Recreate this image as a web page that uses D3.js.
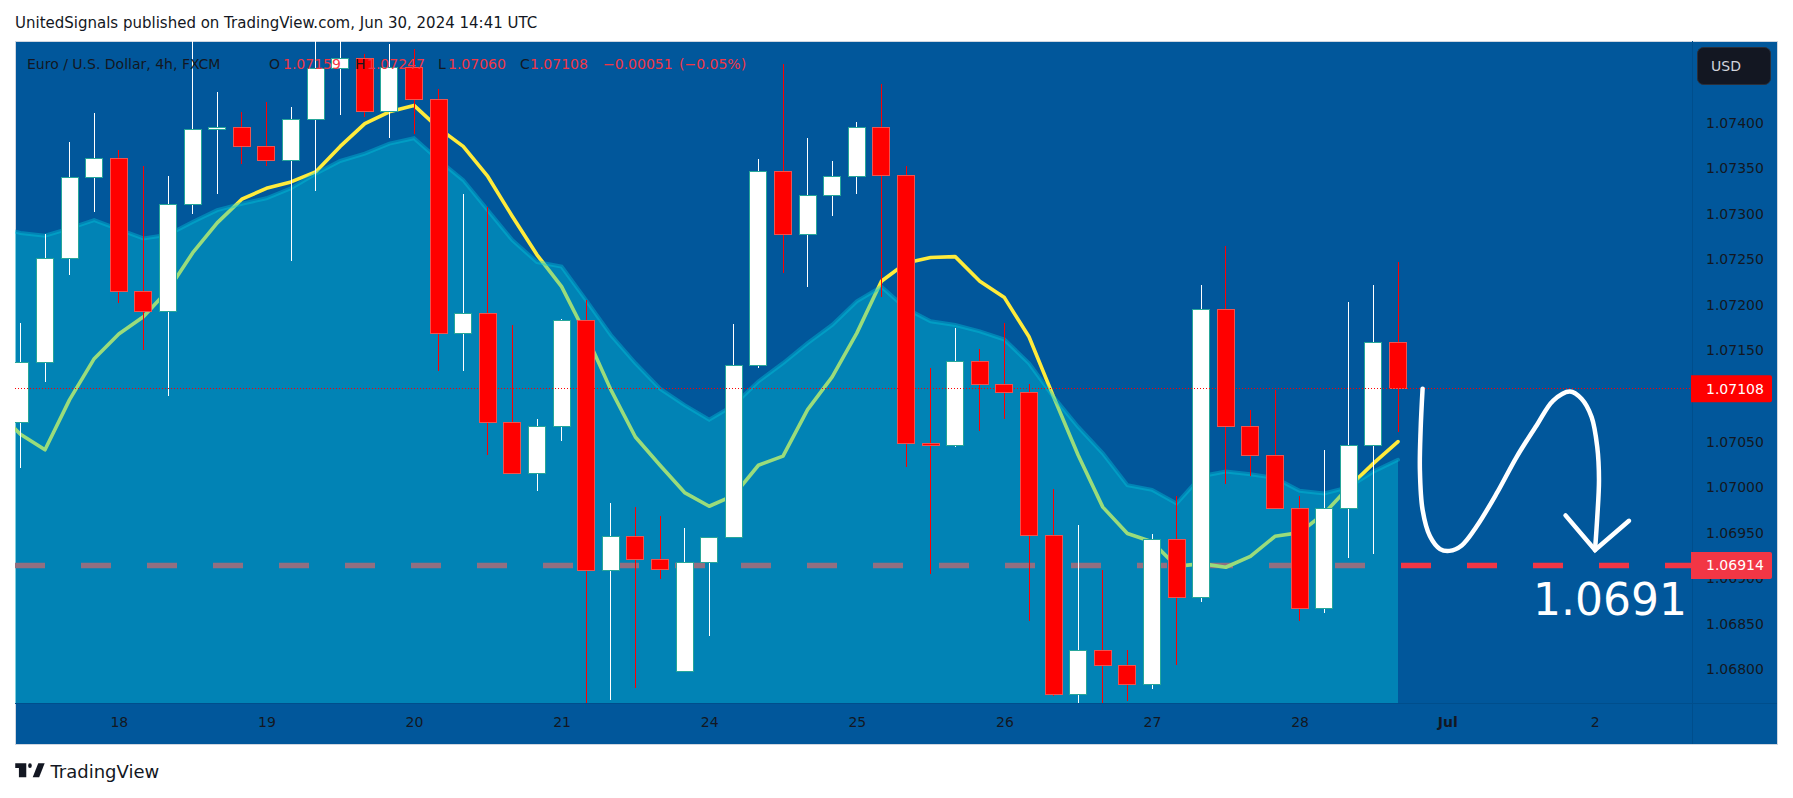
<!DOCTYPE html>
<html>
<head>
<meta charset="utf-8">
<title>EURUSD 4h</title>
<script src="https://cdn.jsdelivr.net/npm/d3@7"></script>
<style>
    html, body { margin: 0; padding: 0; background: #fff; }
    svg { display: block; }
    text { font-family: "DejaVu Sans", sans-serif; }
</style>
</head>
<body>
<svg id="chart" width="1793" height="798"></svg>
<script>
/* --------------------------------------------------- */
/* ----------------------- DATA ---------------------- */
/* --------------------------------------------------- */

// first candle sits 4 bars before the "18" tick
let firstBar = -4
let opens = [1.07071,1.07137,1.07251,1.07340,1.07361,1.07215,1.07193,1.07310,1.07393,1.07395,1.07374,1.07358,1.07403,1.07460,1.07471,1.07412,1.07461,1.07426,1.07169,1.07191,1.07071,1.07015,1.07066,1.07183,1.06909,1.06946,1.06921,1.06798,1.06917,1.06945,1.07133,1.07346,1.07277,1.07320,1.07341,1.07395,1.07342,1.07048,1.07046,1.07138,1.07113,1.07104,1.06947,1.06772,1.06821,1.06804,1.06783,1.06942,1.06879,1.07195,1.07067,1.07035,1.06977,1.06867,1.06977,1.07046,1.07159]
let highs = [1.07180,1.07278,1.07379,1.07411,1.07370,1.07353,1.07341,1.07520,1.07434,1.07412,1.07423,1.07417,1.07500,1.07520,1.07475,1.07486,1.07481,1.07437,1.07322,1.07307,1.07178,1.07075,1.07184,1.07205,1.06983,1.06978,1.06968,1.06955,1.06945,1.07179,1.07360,1.07464,1.07383,1.07358,1.07401,1.07442,1.07353,1.07131,1.07175,1.07152,1.07180,1.07113,1.06998,1.06958,1.06909,1.06821,1.06949,1.06990,1.07222,1.07265,1.07085,1.07107,1.06990,1.07041,1.07203,1.07222,1.07247]
let lows = [1.07021,1.07115,1.07233,1.07302,1.07202,1.07150,1.07100,1.07300,1.07322,1.07355,1.07353,1.07248,1.07325,1.07408,1.07406,1.07383,1.07388,1.07127,1.07127,1.07035,1.07015,1.06996,1.07051,1.06740,1.06766,1.06780,1.06899,1.06798,1.06837,1.06945,1.07131,1.07235,1.07220,1.07298,1.07322,1.07209,1.07022,1.06905,1.07044,1.07062,1.07075,1.06853,1.06771,1.06750,1.06745,1.06765,1.06778,1.06805,1.06874,1.07003,1.07012,1.06977,1.06853,1.06862,1.06922,1.06927,1.07060]
let closes = [1.07137,1.07251,1.07340,1.07361,1.07215,1.07193,1.07310,1.07393,1.07395,1.07374,1.07358,1.07403,1.07460,1.07471,1.07412,1.07461,1.07426,1.07169,1.07191,1.07071,1.07015,1.07066,1.07183,1.06909,1.06946,1.06921,1.06910,1.06917,1.06945,1.07133,1.07346,1.07277,1.07320,1.07341,1.07395,1.07342,1.07048,1.07046,1.07138,1.07113,1.07104,1.06947,1.06772,1.06821,1.06804,1.06783,1.06942,1.06879,1.07195,1.07067,1.07035,1.06977,1.06867,1.06977,1.07046,1.07159,1.07108]

// both averages start one bar earlier than the candles
let lineFirstBar = -5
let yellowLine = [1.07085,1.07058,1.07041,1.07096,1.07141,1.07168,1.07187,1.07216,1.07257,1.07290,1.07316,1.07328,1.07335,1.07346,1.07374,1.07399,1.07412,1.07419,1.07394,1.07374,1.07341,1.07297,1.07255,1.07220,1.07167,1.07107,1.07055,1.07024,1.06994,1.06979,1.06991,1.07024,1.07034,1.07085,1.07121,1.07169,1.07226,1.07246,1.07252,1.07253,1.07226,1.07208,1.07165,1.07099,1.07035,1.06978,1.06949,1.06940,1.06913,1.06916,1.06912,1.06924,1.06946,1.06950,1.06971,1.07000,1.07026,1.07050]
let areaLine = [1.07286,1.07279,1.07276,1.07284,1.07293,1.07283,1.07273,1.07277,1.07291,1.07304,1.07311,1.07317,1.07328,1.07344,1.07358,1.07366,1.07377,1.07383,1.07359,1.07337,1.07304,1.07271,1.07247,1.07242,1.07205,1.07167,1.07136,1.07108,1.07090,1.07074,1.07090,1.07116,1.07136,1.07158,1.07178,1.07204,1.07220,1.07196,1.07182,1.07178,1.07171,1.07162,1.07136,1.07099,1.07066,1.07037,1.07002,1.06997,1.06982,1.07012,1.07017,1.07014,1.07010,1.06996,1.06993,1.07000,1.07017,1.07030]

let priceTicks = [1.068,1.0685,1.069,1.0695,1.07,1.0705,1.071,1.0715,1.072,1.0725,1.073,1.0735,1.074]
let timeTickBars = [0,6,12,18,24,30,36,42,48,54,60]
let timeTickLabels = ['18','19','20','21','24','25','26','27','28','Jul','2']

let lastPrice = 1.07108
let targetPrice = 1.06914

// hand drawn squiggle and arrow head, bar number / price
let squiggleBars = [53.00,52.92,52.89,53.00,53.30,53.71,54.09,54.59,55.20,56.01,56.82,57.64,58.31,58.99,59.46,59.87,60.10,60.17,60.10,60.01]
let squigglePrices = [1.07108,1.07063,1.07019,1.06975,1.06946,1.06932,1.06930,1.06936,1.06957,1.06993,1.07033,1.07068,1.07095,1.07105,1.07097,1.07077,1.07044,1.07008,1.06967,1.06931]
let arrowBars = [58.81,60.01,61.39]
let arrowPrices = [1.06969,1.06931,1.06963]

/* --------------------------------------------------- */
/* ---------------------- LAYOUT --------------------- */
/* --------------------------------------------------- */

let svg = d3.select('#chart')
let plot = { left: 15, top: 41, right: 1692, bottom: 703, outerRight: 1777, outerBottom: 744 }
let barWidth = 17

let x = d3.scaleLinear().domain([0, 60]).range([118.8, 1594.8])
let y = d3.scaleLinear().domain([1.068, 1.074]).range([669.3, 122.7])

let candles = opens.map(function (o, i) {
    return { bar: firstBar + i, open: o, high: highs[i], low: lows[i], close: closes[i] }
})
let yellowPoints = yellowLine.map((v, i) => ({ bar: lineFirstBar + i, value: v }))
let areaPoints = areaLine.map((v, i) => ({ bar: lineFirstBar + i, value: v }))

/* --------------------------------------------------- */
/* ---------------------- PANELS --------------------- */
/* --------------------------------------------------- */

svg.append('rect').attr('x', plot.left).attr('y', plot.top)
    .attr('width', plot.outerRight - plot.left).attr('height', plot.outerBottom - plot.top)
    .attr('fill', '#01579b').attr('stroke', '#cfd6e0').attr('stroke-width', 1)
    .attr('shape-rendering', 'crispEdges')

svg.append('clipPath').attr('id', 'plotClip').append('rect')
    .attr('x', plot.left).attr('y', plot.top)
    .attr('width', plot.right - plot.left).attr('height', plot.bottom - plot.top)

let g = svg.append('g').attr('clip-path', 'url(#plotClip)')

/* --------------- target level (under the area) --------------- */
g.append('line')
    .attr('x1', plot.left).attr('x2', plot.right)
    .attr('y1', y(targetPrice)).attr('y2', y(targetPrice))
    .attr('stroke', '#f23645').attr('stroke-width', 5.5).attr('stroke-dasharray', '30 36')

/* --------------- lines and area --------------- */
let lineGen = d3.line().x(d => x(d.bar)).y(d => y(d.value))
let areaGen = d3.area().x(d => x(d.bar)).y0(plot.bottom).y1(d => y(d.value))

g.append('path').datum(yellowPoints).attr('d', lineGen)
    .attr('fill', 'none').attr('stroke', '#ffeb3b').attr('stroke-width', 3.6)
    .attr('stroke-linecap', 'round').attr('stroke-linejoin', 'round')

g.append('path').datum(areaPoints).attr('d', areaGen)
    .attr('fill', 'rgb(3,197,220)').attr('fill-opacity', 0.4)

g.append('path').datum(areaPoints).attr('d', lineGen)
    .attr('fill', 'none').attr('stroke', 'rgb(3,197,220)').attr('stroke-opacity', 0.4)
    .attr('stroke-width', 4).attr('stroke-linecap', 'round')

/* --------------- candles --------------- */
let candle = g.selectAll('.candle').data(candles).enter().append('g')
    .attr('class', 'candle').attr('shape-rendering', 'crispEdges')

candle.append('line')
    .attr('x1', d => x(d.bar)).attr('x2', d => x(d.bar))
    .attr('y1', d => y(d.high)).attr('y2', d => y(d.low))
    .attr('stroke', d => d.close >= d.open ? '#ffffff' : '#ff0000')

candle.append('rect')
    .attr('x', d => x(d.bar) - barWidth / 2)
    .attr('y', d => y(Math.max(d.open, d.close)))
    .attr('width', barWidth)
    .attr('height', d => Math.abs(y(d.open) - y(d.close)))
    .attr('fill', d => d.close >= d.open ? '#ffffff' : '#ff0000')
    .attr('stroke', d => d.close >= d.open ? '#26a69a' : '#ef5350')

/* --------------- last price dotted line --------------- */
svg.append('line')
    .attr('x1', plot.left).attr('x2', plot.right)
    .attr('y1', y(lastPrice)).attr('y2', y(lastPrice))
    .attr('stroke', '#ff0000').attr('stroke-width', 1).attr('stroke-dasharray', '1 2')
    .attr('shape-rendering', 'crispEdges')

/* --------------- hand drawing --------------- */
let squiggle = squiggleBars.map((b, i) => ({ bar: b, value: squigglePrices[i] }))
let arrow = arrowBars.map((b, i) => ({ bar: b, value: arrowPrices[i] }))

svg.append('path').datum(squiggle)
    .attr('d', lineGen.curve(d3.curveCatmullRom))
    .attr('fill', 'none').attr('stroke', '#fff').attr('stroke-width', 4.5).attr('stroke-linecap', 'round')

svg.append('path').datum(arrow)
    .attr('d', lineGen.curve(d3.curveLinear))
    .attr('fill', 'none').attr('stroke', '#fff').attr('stroke-width', 4.5)
    .attr('stroke-linecap', 'round').attr('stroke-linejoin', 'miter')

svg.append('text').attr('x', 1533).attr('y', 615)
    .attr('fill', '#fff').attr('font-size', 44).text('1.0691')

/* --------------------------------------------------- */
/* ----------------------- AXES ---------------------- */
/* --------------------------------------------------- */

// panel dividers
svg.append('line').attr('x1', plot.right).attr('x2', plot.right)
    .attr('y1', plot.top).attr('y2', plot.outerBottom)
    .attr('stroke', '#004e8c').attr('shape-rendering', 'crispEdges')
svg.append('line').attr('x1', plot.left).attr('x2', plot.outerRight)
    .attr('y1', plot.bottom).attr('y2', plot.bottom)
    .attr('stroke', '#004e8c').attr('shape-rendering', 'crispEdges')

let priceAxis = svg.append('g').attr('transform', 'translate(' + plot.right + ',0)')
    .call(d3.axisRight(y).tickValues(priceTicks).tickSize(0).tickPadding(14)
        .tickFormat(d => d.toFixed(5)))
priceAxis.select('.domain').remove()
priceAxis.selectAll('text').attr('fill', '#131722').attr('font-size', 14)
    .attr('font-family', '"DejaVu Sans", sans-serif')

let timeAxis = svg.append('g').attr('transform', 'translate(0,' + plot.bottom + ')')
    .call(d3.axisBottom(x).tickValues(timeTickBars).tickSize(0).tickPadding(14)
        .tickFormat((d, i) => timeTickLabels[i]))
timeAxis.select('.domain').remove()
timeAxis.selectAll('text').attr('fill', '#131722').attr('font-size', 14)
    .attr('font-family', '"DejaVu Sans", sans-serif')
    .attr('font-weight', d => d === 54 ? 'bold' : 'normal')

/* ----- price tags ----- */
function priceTag(price, color) {
    svg.append('path')
        .attr('d', 'M1691,' + (y(price) - 13.5) + 'h79a2,2 0 0 1 2,2v23a2,2 0 0 1 -2,2h-79z')
        .attr('fill', color)
    svg.append('text').attr('x', 1706).attr('y', y(price)).attr('dy', '0.36em')
        .attr('fill', '#fff').attr('font-size', 14).text(price.toFixed(5))
}
priceTag(lastPrice, '#ff0000')
priceTag(targetPrice, '#f23645')

/* ----- currency button ----- */
svg.append('rect').attr('x', 1697.5).attr('y', 47.5).attr('width', 73).attr('height', 37).attr('rx', 6)
    .attr('fill', '#131722').attr('stroke', '#2a2e39')
svg.append('text').attr('x', 1711).attr('y', 71).attr('fill', '#d1d4dc').attr('font-size', 14).text('USD')

/* --------------------------------------------------- */
/* ---------------------- TEXTS ---------------------- */
/* --------------------------------------------------- */

svg.append('text').attr('x', 15).attr('y', 28).attr('fill', '#131722').attr('font-size', 15)
    .text('UnitedSignals published on TradingView.com, Jun 30, 2024 14:41 UTC')

let legendDark = '#131722', legendRed = '#f23645'
let legend = [
    [27, 'Euro / U.S. Dollar, 4h, FXCM', legendDark],
    [269, 'O', legendDark], [283, '1.07159', legendRed],
    [355, 'H', legendDark], [367, '1.07247', legendRed],
    [438, 'L', legendDark], [448, '1.07060', legendRed],
    [520, 'C', legendDark], [530, '1.07108', legendRed],
    [603, '\u22120.00051', legendRed], [679, '(\u22120.05%)', legendRed]
]
legend.forEach(function (item) {
    svg.append('text').attr('x', item[0]).attr('y', 69)
        .attr('fill', item[2]).attr('font-size', 14).text(item[1])
})

/* ----- logo ----- */
let logo = svg.append('g').attr('transform', 'translate(13.4,756.3) scale(0.92,1.17)').attr('fill', '#131722')
logo.append('path').attr('d', 'M14 6H2v4h4v8h8V6z')
logo.append('circle').attr('cx', 18).attr('cy', 8).attr('r', 2)
logo.append('path').attr('d', 'M28 18h-7l6-12h7z')
svg.append('text').attr('x', 50.5).attr('y', 778).attr('fill', '#131722').attr('font-size', 18).text('TradingView')
</script>
</body>
</html>
